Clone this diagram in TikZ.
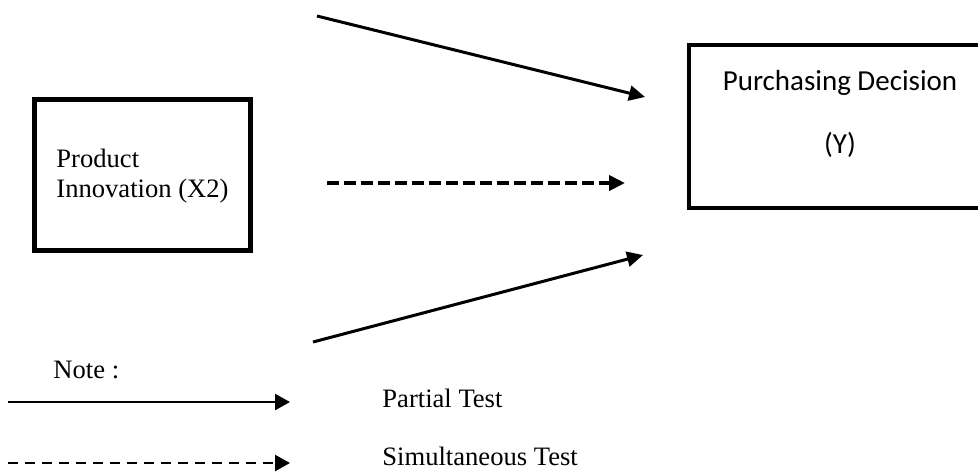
\documentclass[tikz,border=0pt]{standalone}
\usepackage{fontspec}
\setmainfont{Liberation Serif}
\newfontfamily\calibri{Carlito}
\usetikzlibrary{arrows.meta}

\begin{document}
\begin{tikzpicture}[x=0.5pt, y=-0.5pt,
    varbox/.style={draw, line width=2.5pt, inner sep=0pt},
    test/.style={-{Triangle[length=8pt, width=7.5pt]}, line width=1.5pt},
    simtest/.style={test, line width=2pt, dash pattern=on 6pt off 2.5pt},
    legline/.style={-{Triangle[length=7.5pt, width=8pt]}, line width=1.2pt},
    legdash/.style={legline, dash pattern=on 5pt off 3.5pt},
    txt/.style={font=\fontsize{13.3}{15}\selectfont, inner sep=0pt}
]
    \useasboundingbox (0,0) rectangle (978,473);

    \node[varbox, minimum width=108pt, minimum height=75.5pt] (x2) at (142.5,175) {};
    \node[txt, align=left] (x2text) at (142.5,176) {Product\\Innovation (X2)};

    \node[varbox, line width=2pt, minimum width=153pt, minimum height=81.5pt] (y) at (842,126.5) {};
    \node[align=center, inner sep=0pt, font=\calibri\fontsize{14.5}{31.5}\selectfont] (ytext) at (840,114) {Purchasing Decision\\(Y)};

    \coordinate (t1) at (317,16);   \coordinate (t1e) at (645,97);
    \coordinate (s1) at (327,183);  \coordinate (s1e) at (625,183);
    \coordinate (t2) at (313,342);  \coordinate (t2e) at (643,255);

    \draw[test] (t1) -- (t1e);
    \draw[simtest] (s1) -- (s1e);
    \draw[test] (t2) -- (t2e);

    \node[txt, anchor=base west] (note) at (53,378) {Note :};
    \coordinate (p1) at (8,402);   \coordinate (p1e) at (290,402);
    \coordinate (q1) at (8,463);   \coordinate (q1e) at (290,463);
    \draw[legline] (p1) -- (p1e);
    \draw[legdash] (q1) -- (q1e);
    \node[txt, anchor=base west] (partial) at (382,407) {Partial Test};
    \node[txt, anchor=base west] (simult) at (382,465) {Simultaneous Test};
\end{tikzpicture}
\end{document}
